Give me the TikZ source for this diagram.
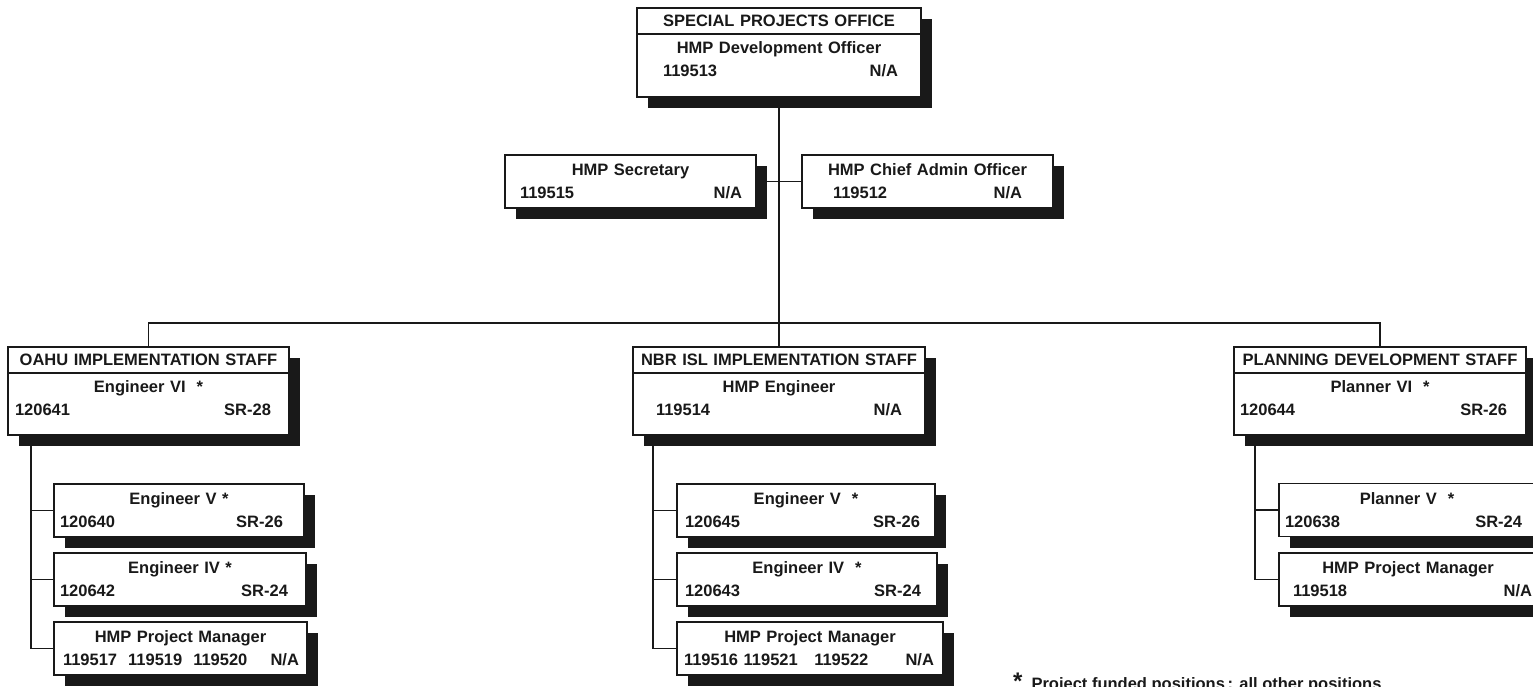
\documentclass[tikz,border=0pt]{standalone}
\usepackage{fontspec}
\setmainfont{Liberation Sans}
\usetikzlibrary{positioning, shadows}

\newcommand{\postfont}{\fontsize{16.5}{23}\selectfont\bfseries}
\newcommand{\idline}[5][0]{\hspace*{#2pt}#3\hfill#4\hspace*{#5pt}\rule[-#1pt]{0pt}{#1pt}}

\tikzset{
  post/.style={draw=black!90, line width=1.3pt, fill=white, inner sep=0pt, outer sep=0pt,
    align=center, font=\postfont, text=black!90,
    drop shadow={shadow xshift=11pt, shadow yshift=-11pt, opacity=1, fill=black!90}},
  posthead/.style={post, minimum height=26pt},
  link/.style={draw=black!90, line width=1.3pt},
}

\begin{document}
\begin{tikzpicture}[x=1pt, y=-1pt]
    \clip (0,0) rectangle (1533,687);
    % top office
    \node[posthead, text width=284pt] (spohead) at (779,21) {SPECIAL PROJECTS OFFICE};
    \node[post, text width=284pt, minimum height=63pt, below=0pt of spohead] (spobody) {HMP Development Officer\\\idline[12]{26}{119513}{N/A}{23}};
    \node[post, text width=251pt, minimum height=53pt] (sec) at (630.5,181.5) {HMP Secretary\\\idline{15}{119515}{N/A}{14}};
    \node[post, text width=251pt, minimum height=53pt] (cao) at (927.5,181.5) {HMP Chief Admin Officer\\\idline{31}{119512}{N/A}{31}};

    % staff heads
    \node[posthead, text width=281pt] (oahuhead) at (148.5,360) {OAHU IMPLEMENTATION STAFF};
    \node[post, text width=281pt, minimum height=62pt, below=0pt of oahuhead] (oahubody) {Engineer VI~~*\\\idline[12]{7}{120641}{SR-28}{18}};
    \node[posthead, text width=292pt] (nbrhead) at (779,360) {NBR ISL IMPLEMENTATION STAFF};
    \node[post, text width=292pt, minimum height=62pt, below=0pt of nbrhead] (nbrbody) {HMP Engineer\\\idline[12]{23}{119514}{N/A}{23}};
    \node[posthead, text width=292pt] (planhead) at (1380,360) {PLANNING DEVELOPMENT STAFF};
    \node[post, text width=292pt, minimum height=62pt, below=0pt of planhead] (planbody) {Planner VI~~*\\\idline[12]{6}{120644}{SR-26}{19}};

    % oahu positions
    \node[post, text width=250pt, minimum height=53pt] (ev1) at (179,510.5) {Engineer V *\\\idline{6}{120640}{SR-26}{21}};
    \node[post, text width=252pt, minimum height=53pt] (ei1) at (180,579.5) {Engineer IV *\\\idline{6}{120642}{SR-24}{18}};
    \node[post, text width=253pt, minimum height=53pt] (pm1) at (180.5,648.5) {HMP Project Manager\\\idline{9}{119517~~119519~~119520}{N/A}{8}};

    % nbr isl positions
    \node[post, text width=258pt, minimum height=53pt] (ev2) at (806,510.5) {Engineer V~~*\\\idline{8}{120645}{SR-26}{15}};
    \node[post, text width=260pt, minimum height=53pt] (ei2) at (807,579.5) {Engineer IV~~*\\\idline{8}{120643}{SR-24}{16}};
    \node[post, text width=266pt, minimum height=53pt] (pm2) at (810,648.5) {HMP Project Manager\\\idline{7}{119516 119521~~~119522}{N/A}{9}};

    % planning positions
    \node[post, text width=256pt, minimum height=53pt] (pv) at (1407,510) {Planner V~~*\\\idline{6}{120638}{SR-24}{13}};
    \node[post, text width=258pt, minimum height=53pt] (pm3) at (1408,579.5) {HMP Project Manager\\\idline{14}{119518}{N/A}{5}};

    \node[anchor=base west, inner sep=0pt, font=\postfont, text=black!90] (note) at (1013,689) {{\fontsize{24}{24}\selectfont *}\hspace{9pt}Project funded positions\,: all other positions};

    % connectors
    \coordinate (bus) at (779,323);
    \coordinate (t1) at (31,435);
    \coordinate (t2) at (653,435);
    \coordinate (t3) at (1255,435);
    \draw[link] (spobody.south) -- (nbrhead.north);
    \draw[link] (sec) -- (cao); % crosses the main line
    \draw[link] (oahuhead.north) |- (bus) -| (planhead.north);
    \draw[link] (t1) |- (pm1.west);
    \draw[link] (t1 |- ev1.west) -- (ev1.west);
    \draw[link] (t1 |- ei1.west) -- (ei1.west);
    \draw[link] (t2) |- (pm2.west);
    \draw[link] (t2 |- ev2.west) -- (ev2.west);
    \draw[link] (t2 |- ei2.west) -- (ei2.west);
    \draw[link] (t3) |- (pm3.west);
    \draw[link] (t3 |- pv.west) -- (pv.west);
\end{tikzpicture}
\end{document}
